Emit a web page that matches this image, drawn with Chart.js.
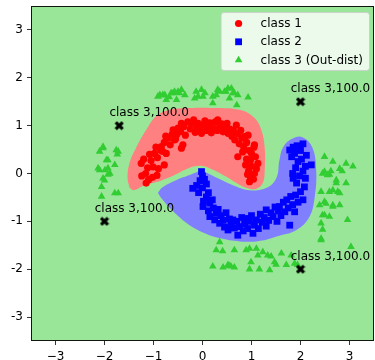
<!DOCTYPE html>
<html><head><meta charset="utf-8">
<script src="https://cdn.jsdelivr.net/npm/chart.js@4/dist/chart.umd.min.js"></script>
<style>html,body{margin:0;padding:0;background:#fff;}canvas{display:block;}</style>
</head><body>
<canvas id="c" width="375" height="360"></canvas>
<script>
const xTickValues=[-3,-2,-1,0,1,2,3];
const xTickLabels=["\u22123","\u22122","\u22121","0","1","2","3"];
const yTickValues=[-3,-2,-1,0,1,2,3];
const yTickLabels=["-3","-2","-1","0","1","2","3"];
const seriesLabels=["class 1","class 2","class 3 (Out-dist)"];

const class1Points=[
[-1.15,-0.20],[-1.24,-0.05],[-1.10,-0.13],[-1.16,0.00],[-1.02,-0.08],[-0.93,-0.04],[-1.25,0.21],[-1.12,0.12],[-1.01,0.14],[-0.90,0.10],
[-1.20,0.30],[-1.05,0.27],[-0.78,0.18],[-0.98,0.42],[-1.08,0.40],[-0.92,0.33],[-0.85,0.48],[-0.84,0.56],[-0.95,0.55],[-0.74,0.42],
[-0.81,0.46],[-0.43,0.53],[-0.78,0.65],[-0.70,0.74],[-0.66,0.60],[-0.62,0.82],[-0.75,0.78],[-0.60,0.91],[-0.55,0.72],[-0.50,0.95],
[-0.52,0.82],[-0.43,1.05],[-0.45,0.88],[-0.40,0.60],[-0.57,0.70],[-0.38,0.98],[-0.35,0.80],[-0.30,1.08],[-0.25,0.93],[-0.23,1.05],
[-0.18,1.12],[-0.15,0.86],[-0.12,0.98],[-0.09,1.05],[-0.05,0.92],[-0.02,0.84],[0.02,1.02],[0.05,1.10],[0.08,0.90],[0.11,0.97],
[0.15,1.06],[0.18,0.85],[0.22,0.95],[0.26,1.08],[0.31,1.12],[0.30,0.90],[0.35,0.98],[0.39,1.04],[0.42,0.87],[0.46,0.96],
[0.50,1.05],[0.52,0.84],[0.56,0.93],[0.60,0.78],[0.63,0.90],[0.66,0.70],[0.69,1.01],[0.72,0.83],[0.75,0.62],[0.78,0.90],
[0.80,0.74],[0.84,0.56],[0.86,0.77],[0.90,0.65],[0.93,0.80],[0.72,0.35],[0.82,0.45],[0.95,0.48],[1.00,0.42],[1.05,0.55],
[1.06,0.60],[0.90,0.30],[0.98,0.28],[1.08,0.35],[0.88,0.18],[1.00,0.15],[1.13,0.21],[0.94,0.05],[1.06,0.00],[1.10,0.10],
[0.98,-0.08],[0.92,-0.02],[0.96,-0.17],[1.04,-0.12]
];
const class2Points=[
[-0.02,0.04],[0.00,-0.05],[-0.05,-0.15],[0.04,-0.12],[-0.20,-0.31],[-0.12,-0.25],[0.00,-0.30],[0.08,-0.22],[-0.08,-0.40],[0.08,-0.49],
[0.02,-0.58],[0.12,-0.40],[0.01,-0.69],[0.15,-0.62],[0.20,-0.55],[0.12,-0.78],[0.15,-0.90],[0.22,-0.72],[0.28,-0.83],[0.25,-0.97],
[0.32,-0.75],[0.35,-1.04],[0.38,-0.88],[0.42,-0.98],[0.45,-1.12],[0.48,-0.82],[0.52,-1.18],[0.55,-0.95],[0.58,-1.05],[0.62,-0.97],
[0.65,-1.14],[0.70,-1.00],[0.72,-1.29],[0.76,-1.11],[0.80,-0.92],[0.83,-1.20],[0.86,-1.05],[0.89,-0.94],[0.92,-1.15],[0.96,-1.00],
[1.00,-0.88],[1.03,-1.25],[1.06,-1.08],[1.10,-0.97],[1.14,-1.15],[1.18,-0.85],[1.22,-1.02],[1.26,-0.92],[1.30,-0.76],[1.30,-1.10],
[1.35,-0.98],[1.40,-0.82],[1.44,-0.90],[1.48,-0.70],[1.52,-1.00],[1.55,-0.78],[1.57,-0.69],[1.60,-0.88],[1.65,-0.60],[1.68,-0.80],
[1.72,-0.55],[1.75,-0.72],[1.78,-1.08],[1.80,-0.48],[1.84,-0.65],[1.88,-0.80],[1.90,-0.45],[1.95,-0.60],[2.00,-0.38],[2.05,-0.55],
[2.08,-0.28],[1.92,-0.20],[1.85,-0.10],[1.98,-0.05],[2.05,0.05],[1.84,0.00],[1.90,0.12],[2.10,0.15],[2.22,0.18],[1.95,0.25],
[2.02,0.30],[1.82,0.35],[1.88,0.42],[2.00,0.48],[1.78,0.49],[1.93,0.58],[1.98,0.56],[2.05,0.62],[1.85,0.55],[2.10,-0.10],[2.12,0.38]
];
const class3Points=[
[-0.91,1.61],[-0.87,1.64],[-0.81,1.64],[-0.77,1.64],[-0.74,1.54],[-0.68,1.60],[-0.64,1.68],[-0.60,1.68],[-0.57,1.71],[-0.53,1.54],
[-0.50,1.71],[-0.47,1.68],[-0.43,1.75],[-0.36,1.64],[-0.16,1.57],[-0.13,1.71],[-0.09,1.61],[-0.02,1.75],[0.01,1.61],[0.05,1.68],
[0.21,1.61],[0.21,1.47],[0.28,1.64],[0.31,1.75],[0.35,1.71],[0.45,1.71],[0.48,1.71],[0.52,1.78],[0.55,1.57],[0.59,1.78],
[0.62,1.68],[0.65,1.68],[0.70,1.43],[0.72,1.64],[0.93,1.59],
[-2.10,0.46],[-2.03,0.56],[-2.03,0.53],[-1.76,0.49],[-1.72,0.46],[-1.74,0.40],[-1.96,0.28],[-1.93,0.28],[-1.79,0.18],[-2.13,0.11],
[-1.99,0.07],[-1.93,0.11],[-2.10,0.07],[-1.89,0.00],[-1.93,-0.02],[-2.03,-0.10],[-2.00,-0.14],[-2.06,-0.28],[-1.79,-0.41],[-1.72,-0.41],[-2.06,-0.48],
[2.49,0.35],[2.66,0.25],[2.80,0.10],[2.93,0.21],[3.07,0.15],[2.45,0.00],[2.49,0.04],[2.55,-0.03],[2.59,-0.02],[2.73,-0.14],
[2.73,-0.20],[2.93,-0.20],[2.42,-0.38],[2.59,-0.38],[2.66,-0.35],[2.76,-0.38],[2.80,-0.41],[2.49,-0.59],[2.39,-0.66],[2.52,-0.63],
[2.66,-0.66],[2.66,-0.69],[2.80,-0.66],[2.45,-0.87],[2.49,-0.87],[2.59,-0.90],[2.42,-1.04],[2.45,-1.17],[2.42,-1.36],[2.42,-1.39],
[2.96,-0.97],[3.03,-1.53],[2.62,0.05],[2.85,0.05],
[0.35,-1.43],[0.28,-1.60],[0.41,-1.62],[0.65,-1.60],[0.21,-1.94],[0.42,-1.96],[0.52,-1.91],[0.58,-1.94],[0.65,-1.96],[0.89,-1.60],
[0.96,-1.57],[1.10,-1.57],[1.13,-1.71],[0.99,-1.85],[0.96,-2.00],[1.16,-2.00],[1.23,-1.64],[1.33,-1.71],[1.37,-2.02],[1.47,-1.85],
[1.50,-1.90],[1.61,-1.67],[1.71,-1.91],[1.81,-1.71],[1.88,-1.88],[1.94,-1.91],[0.55,-1.93],[1.40,-1.73]
];
const markedX=[-1.7,2,-2,2];
const markedY=[1,1.5,-1,-2];
const markedText=["class 3,100.0","class 3,100.0","class 3,100.0","class 3,100.0"];

const region1Boundary=[
[-1.49,-0.30],[-1.53,-0.09],[-1.49,0.22],[-1.35,0.55],[-1.15,0.91],[-0.94,1.20],[-0.67,1.33],[-0.26,1.37],[0.25,1.37],[0.76,1.33],
[1.06,1.16],[1.20,0.91],[1.27,0.53],[1.27,0.07],[1.23,-0.20],[1.10,-0.32],[0.96,-0.32],[0.76,-0.24],[0.49,-0.07],[0.19,0.09],
[-0.02,0.16],[-0.26,0.12],[-0.61,-0.05],[-0.94,-0.18],[-1.22,-0.26],[-1.40,-0.35]
];
const region2Boundary=[
[-0.91,-0.41],[-0.83,-0.53],[-0.63,-0.76],[-0.36,-1.01],[-0.06,-1.20],[0.35,-1.35],[0.76,-1.42],[1.16,-1.41],[1.53,-1.31],[1.92,-1.18],
[2.18,-0.91],[2.29,-0.49],[2.32,0.07],[2.24,0.55],[2.04,0.76],[1.84,0.73],[1.65,0.56],[1.57,0.28],[1.51,-0.09],[1.31,-0.30],
[0.96,-0.35],[0.61,-0.24],[0.29,-0.09],[-0.02,0.04],[-0.26,-0.03],[-0.61,-0.17],[-0.83,-0.30]
];

const FONT='"DejaVu Sans", sans-serif';
Chart.defaults.font.family=FONT;
const toXY=a=>a.map(p=>({x:p[0],y:p[1]}));
const closed=a=>toXY(a.concat([a[0]]));

function makeXMarker(s){
  const c=document.createElement('canvas'); c.width=s; c.height=s;
  const g=c.getContext('2d'); g.fillStyle='#000';
  const h=s/2, k=s*0.92;
  const pts=[[-0.25,-0.5],[0,-0.25],[0.25,-0.5],[0.5,-0.25],[0.25,0],[0.5,0.25],[0.25,0.5],[0,0.25],[-0.25,0.5],[-0.5,0.25],[-0.25,0],[-0.5,-0.25]];
  g.beginPath();
  pts.forEach((p,i)=>{const x=h+p[0]*k,y=h+p[1]*k; if(i) g.lineTo(x,y); else g.moveTo(x,y);});
  g.closePath(); g.fill();
  return c;
}

const bgPlugin={id:'bg',beforeDraw(chart){
  const a=chart.chartArea,ctx=chart.ctx;
  ctx.save(); ctx.fillStyle='#99e699'; ctx.fillRect(a.left,a.top,a.right-a.left,a.bottom-a.top); ctx.restore();
}};
const framePlugin={id:'frame',afterDatasetsDraw(chart){
  const a=chart.chartArea,ctx=chart.ctx;
  ctx.save();
  ctx.strokeStyle='rgba(0,0,0,0.9)'; ctx.lineWidth=1;
  ctx.strokeRect(a.left+0.5,a.top+0.5,a.right-a.left-1,a.bottom-a.top-1);
  const xs=chart.scales.x, ys=chart.scales.y;
  ctx.font='12px '+FONT; ctx.fillStyle='#000'; ctx.textAlign='left'; ctx.textBaseline='alphabetic';
  markedX.forEach((x,i)=>{
    ctx.fillText(markedText[i], xs.getPixelForValue(x-0.2), ys.getPixelForValue(markedY[i]+0.2));
  });
  ctx.restore();
}};
const legendPlugin={id:'insideLegend',afterDraw(chart){
  const ctx=chart.ctx,a=chart.chartArea;
  ctx.save(); ctx.font='12px '+FONT;
  const items=chart.data.datasets.filter(d=>d.inLegend);
  const tw=Math.max(...items.map(d=>ctx.measureText(d.label).width));
  const w=40+tw+6,h=58;
  const x0=a.right-5-w,y0=a.top+6;
  ctx.beginPath();
  if(ctx.roundRect) ctx.roundRect(x0+0.5,y0+0.5,w,h,3); else ctx.rect(x0+0.5,y0+0.5,w,h);
  ctx.fillStyle='rgba(255,255,255,0.8)'; ctx.fill();
  ctx.strokeStyle='rgba(204,204,204,0.8)'; ctx.lineWidth=1; ctx.stroke();
  items.forEach((d,i)=>{
    const cy=y0+11.5+i*18.3;
    ctx.fillStyle=d.backgroundColor;
    Chart.helpers.drawPoint(ctx,{pointStyle:d.pointStyle,radius:d.pointRadius,rotation:0,borderWidth:0},x0+18,cy);
    ctx.fillStyle='#000'; ctx.textAlign='left'; ctx.textBaseline='middle';
    ctx.fillText(d.label,x0+40,cy+0.5);
  });
  ctx.restore();
}};

new Chart(document.getElementById('c'),{
  type:'scatter',
  data:{datasets:[
    {label:'r1',data:closed(region1Boundary),showLine:true,fill:'shape',backgroundColor:'#ff8080',borderColor:'rgba(0,0,0,0)',borderWidth:0,pointRadius:0,tension:0.4,order:10},
    {label:'r2',data:closed(region2Boundary),showLine:true,fill:'shape',backgroundColor:'#8080ff',borderColor:'rgba(0,0,0,0)',borderWidth:0,pointRadius:0,tension:0.4,order:9},
    {label:seriesLabels[0],inLegend:true,data:toXY(class1Points),pointStyle:'circle',pointRadius:3.6,backgroundColor:'#ff0000',borderWidth:0,order:4},
    {label:seriesLabels[1],inLegend:true,data:toXY(class2Points),pointStyle:'rect',pointRadius:4.8,backgroundColor:'#0000ff',borderWidth:0,order:3},
    {label:seriesLabels[2],inLegend:true,data:toXY(class3Points),pointStyle:'triangle',pointRadius:4.4,backgroundColor:'#32cd32',borderWidth:0,order:2},
    {label:'marked',data:markedX.map((x,i)=>({x:x,y:markedY[i]})),pointStyle:makeXMarker(10),pointRadius:5,order:1}
  ]},
  options:{
    responsive:false,animation:false,devicePixelRatio:1,events:[],
    layout:{autoPadding:false,padding:{top:6,right:1,left:0,bottom:0}},
    plugins:{legend:{display:false},tooltip:{enabled:false}},
    scales:{
      x:{type:'linear',min:-3.5,max:3.5,
        afterBuildTicks:ax=>{ax.ticks=xTickValues.map(v=>({value:v}));},
        afterFit:ax=>{ax.height=19;ax.paddingLeft=0;ax.paddingRight=0;},
        ticks:{callback:v=>xTickLabels[xTickValues.indexOf(v)],font:{size:12},color:'#000',padding:5,maxRotation:0,autoSkip:false},
        grid:{display:true,drawOnChartArea:false,drawTicks:true,tickLength:4,color:'#000',lineWidth:0.8},
        border:{display:false}},
      y:{type:'linear',min:-3.5,max:3.5,
        afterBuildTicks:ax=>{ax.ticks=yTickValues.map(v=>({value:v}));},
        afterFit:ax=>{ax.width=31;ax.paddingTop=0;ax.paddingBottom=0;},
        ticks:{callback:v=>yTickLabels[yTickValues.indexOf(v)],font:{size:12},color:'#000',padding:4,autoSkip:false},
        grid:{display:true,drawOnChartArea:false,drawTicks:true,tickLength:4,color:'#000',lineWidth:0.8},
        border:{display:false}}
    }
  },
  plugins:[bgPlugin,framePlugin,legendPlugin]
});
</script>
</body></html>
